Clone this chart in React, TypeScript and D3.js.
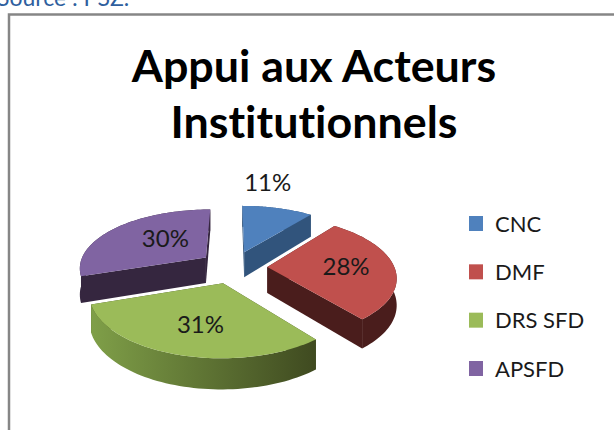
import React from "react";
import * as d3 from "d3";

const categories = ["CNC", "DMF", "DRS SFD", "APSFD"];
const values = [11, 28, 31, 30];
const labels = ["11%", "28%", "31%", "30%"];
const titleLines = ["Appui aux Acteurs", "Institutionnels"];

const topColors = ["#4f81bd", "#c0504d", "#9bbb59", "#8064a2"];
const wallColors = ["#31547c", "#4a1d1c", "#3f4a20", "#35263f"];
const rimLight = ["#31547c", "#4a1d1c", "#7f9f48", "#35263f"];

const width = 614;
const height = 430;
const cx = 233;
const cy = 267;
const rx = 127; // ground radius across
const ry = 60.6; // ground radius in depth
const persp = 0.156; // front of the pie is drawn larger than the back
const explode = 0.27;
const depth = 26;

// where each percent label sits: distance from the slice apex, and turn from the mid angle (degrees)
const labelRadius = [1.82, 0.62, 0.6, 0.5];
const labelTurn = [-10, 0, -1.6, 8];

const pieGen = d3.pie<number>().sort(null).value((d) => d);
const arcs = pieGen(values);

// ground position -> screen position, with a simple perspective
const project = (u: number, v: number, drop = 0): [number, number] => {
  const w = 1 + persp * v;
  return [cx + rx * u * w, cy + ry * v * w + drop * w];
};

const line = d3.line<[number, number]>();

const App = () => {
  const slices = arcs.map((a, i) => {
    const mid = (a.startAngle + a.endAngle) / 2;
    const ox = explode * Math.sin(mid);
    const oy = -explode * Math.cos(mid);
    const angles = d3.range(0, 61).map((k) => a.startAngle + ((a.endAngle - a.startAngle) * k) / 60);
    const rim = (drop: number) =>
      angles.map((t) => project(ox + Math.sin(t), oy - Math.cos(t), drop));
    const apex = project(ox, oy);
    const apexLow = project(ox, oy, depth);
    const top = rim(0);
    const low = rim(depth);
    const la = mid + (labelTurn[i] * Math.PI) / 180;
    const labelPos = project(
      ox + labelRadius[i] * Math.sin(la),
      oy - labelRadius[i] * Math.cos(la)
    );
    return { i, apex, apexLow, top, low, labelPos };
  });

  const legendY = d3.scalePoint<string>().domain(categories).range([224, 369]);

  return (
    <svg
      width={width}
      height={height}
      style={{ position: "absolute", left: 0, top: 0, background: "#fff" }}
      fontFamily="Lato, Carlito, sans-serif"
    >
      <defs>
        {slices.map((s) => (
          <linearGradient
            key={s.i}
            id={`rim${s.i}`}
            gradientUnits="userSpaceOnUse"
            x1={d3.min(s.top, (p) => p[0])}
            x2={d3.max(s.top, (p) => p[0])}
            y1={0}
            y2={0}
          >
            <stop offset="0" stopColor={rimLight[s.i]} />
            <stop offset="1" stopColor={wallColors[s.i]} />
          </linearGradient>
        ))}
      </defs>

      {/* the source line is cut by the top of the picture in the reference too */}
      <text x={-3} y={6} fontSize={23} fill="#2f5f9e">Source : PSZ.</text>
      <path d="M9,430V14.5H614" fill="none" stroke="#868686" strokeWidth={2.5} />

      {titleLines.map((t, i) => (
        <text
          key={t}
          x={314}
          y={82 + i * 56}
          fontSize={44.8}
          fontWeight={700}
          textAnchor="middle"
          fill="#000"
          style={{ fontVariantLigatures: "none" }}
        >
          {t}
        </text>
      ))}

      {/* back slices first so the front ones sit on top */}
      {[3, 0, 1, 2].map((idx) => {
        const s = slices[idx];
        const first = s.top[0];
        const last = s.top[s.top.length - 1];
        const firstLow = s.low[0];
        const lastLow = s.low[s.low.length - 1];
        return (
          <g key={idx}>
            <path d={line([s.apex, first, firstLow, s.apexLow])! + "Z"} fill={wallColors[idx]} />
            <path d={line([s.apex, last, lastLow, s.apexLow])! + "Z"} fill={wallColors[idx]} />
            <path d={line([...s.top, ...[...s.low].reverse()])! + "Z"} fill={`url(#rim${idx})`} />
            <path d={line([s.apex, ...s.top])! + "Z"} fill={topColors[idx]} />
          </g>
        );
      })}

      {slices.map((s) => (
        <text
          key={s.i}
          x={s.labelPos[0]}
          y={s.labelPos[1]}
          dy="0.35em"
          fontSize={24}
          textAnchor="middle"
          fill="#1a1a1a"
        >
          {labels[s.i]}
        </text>
      ))}

      {categories.map((c, i) => (
        <g key={c}>
          <rect x={469} y={legendY(c)! - 8} width={14} height={15} fill={topColors[i]} />
          <text x={495} y={legendY(c)!} dy="0.35em" fontSize={22} fill="#1a1a1a">{c}</text>
        </g>
      ))}
    </svg>
  );
};

export default App;
